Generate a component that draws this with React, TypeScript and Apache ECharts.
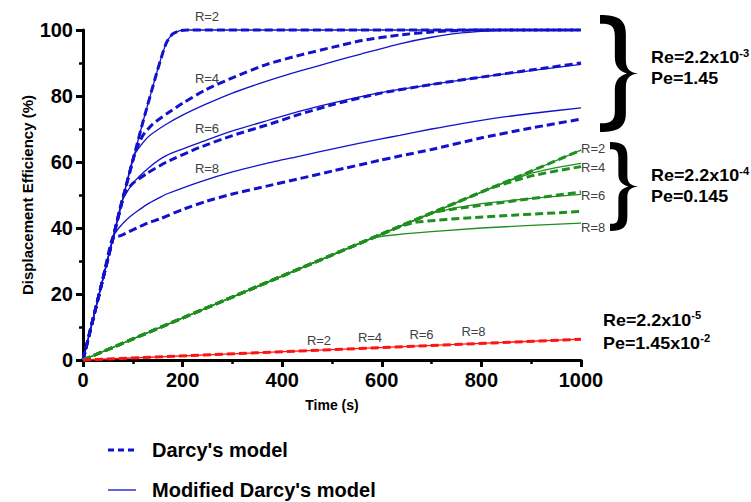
import React, { useEffect, useRef } from "react";
import * as echarts from "echarts";

// ---------------- data ----------------
const xTicks = { min: 0, max: 1000, interval: 200 };
const yTicks = { min: 0, max: 100, interval: 20 };

// Re=2.2x10^-3, Pe=1.45 (blue)
const blueR2 = [[0, 0], [20, 12.3], [40, 24.6], [61, 37.4], [81, 49.5], [101, 61], [121, 72.5], [148, 87], [160, 93], [168, 96.3], [180, 98.8], [195, 99.8], [210, 100], [1000, 100]];
const blueDarcyR4 = [[0, 0], [20, 12.3], [40, 24.6], [61, 37.4], [81, 49.5], [104, 62.5], [120, 68], [140, 71.5], [168, 74.6], [200, 77.8], [248, 82], [300, 85.5], [369, 89.6], [436, 92.4], [502, 94.8], [560, 96.8], [636, 98.5], [700, 99.4], [760, 99.9], [800, 100], [1000, 100]];
const blueModR4 = [[0, 0], [20, 12.3], [40, 24.6], [61, 37.4], [81, 49.5], [101, 61.5], [115, 64.8], [134, 68], [168, 71.5], [200, 74.2], [248, 77.6], [300, 80.9], [369, 84.5], [436, 87.6], [502, 90.4], [560, 92.8], [636, 95.8], [700, 97.8], [760, 99.1], [830, 99.8], [900, 100], [1000, 100]];
const blueDarcyR6 = [[0, 0], [20, 12.3], [40, 24.6], [61, 37.4], [82, 50], [100, 53.5], [128, 56.5], [168, 60], [234, 64.4], [300, 68], [369, 71.2], [436, 74.5], [502, 77.4], [596, 80.8], [700, 83.5], [803, 85.8], [900, 87.9], [1000, 90]];
const blueModR6 = [[0, 0], [20, 12.3], [40, 24.6], [61, 37.4], [78, 48], [100, 53.5], [134, 58.5], [168, 62], [248, 66.6], [300, 69.4], [369, 72.5], [436, 75.4], [502, 77.9], [596, 81], [700, 83.5], [803, 85.8], [900, 87.7], [1000, 89.6]];
const blueDarcyR8 = [[0, 0], [20, 12.3], [40, 24.6], [61, 37.4], [74, 37.6], [90, 38.7], [108, 40], [130, 41.5], [155, 42.8], [200, 45.6], [248, 48.1], [300, 50.3], [369, 52.7], [436, 55], [502, 57.3], [596, 60.5], [636, 61.8], [700, 63.8], [803, 67.4], [900, 70.3], [1000, 73]];
const blueModR8 = [[0, 0], [20, 12.3], [40, 24.6], [61, 37.4], [72, 40], [88, 42.6], [110, 45.2], [128, 47.1], [155, 49.3], [168, 50.3], [235, 54], [300, 57], [369, 59.6], [436, 61.8], [502, 64], [596, 66.9], [636, 68.1], [700, 70], [803, 72.7], [900, 74.7], [1000, 76.4]];

// Re=2.2x10^-4, Pe=0.145 (green)
const greenR2 = [[0, 0], [500, 31.8], [1000, 63.6]];
const greenDarcyR4 = [[0, 0], [820, 52.2], [860, 54], [900, 55.8], [950, 57.3], [1000, 58.6]];
const greenModR4 = [[0, 0], [840, 53.4], [900, 56.6], [950, 58.3], [1000, 59.6]];
const greenDarcyR6 = [[0, 0], [705, 44.9], [750, 45.9], [800, 46.9], [900, 48.9], [1000, 50.9]];
const greenModR6 = [[0, 0], [695, 44.3], [750, 46.2], [800, 47.4], [900, 49], [1000, 50.2]];
const greenDarcyR8 = [[0, 0], [640, 40.7], [670, 41.8], [730, 42.6], [864, 43.9], [1000, 45]];
const greenModR8 = [[0, 0], [580, 36.9], [600, 37.5], [650, 38.3], [700, 38.9], [800, 40], [900, 40.8], [1000, 41.5]];

// Re=2.2x10^-5, Pe=1.45x10^-2 (red)
const redR = [[0, 0], [500, 3.15], [1000, 6.3]];

const rLabels = ["R=2", "R=4", "R=6", "R=8"];
const legendNames = ["Darcy's model", "Modified Darcy's model"];
const groupTexts = [
  ["Re=2.2x10", "-3", "Pe=1.45", ""],
  ["Re=2.2x10", "-4", "Pe=0.145", ""],
  ["Re=2.2x10", "-5", "Pe=1.45x10", "-2"],
];

// ---------------- styles ----------------
const FONT = '"Liberation Sans", Arial, Helvetica, sans-serif';
const BLUE = "#1212cc";
const GREEN = "#1f8f1f";
const RED = "#ff1414";
const GRAY = "#404040";

function bracePath(w: number, h: number, t: number, xoFrac: number) {
  const xo = w * xoFrac;
  const xi = xo - t;
  const m = h / 2;
  const nx = xo + (w - xo) * 0.1;
  const p = (n: number) => n.toFixed(2);
  return (
    `M0,0 C${p(xo * 0.7)},0 ${p(xo)},${p(h * 0.04)} ${p(xo)},${p(h * 0.16)} ` +
    `L${p(xo)},${p(h * 0.38)} C${p(xo)},${p(h * 0.46)} ${p(xo + (w - xo) * 0.3)},${p(h * 0.49)} ${p(w)},${p(m)} ` +
    `C${p(xo + (w - xo) * 0.3)},${p(h * 0.51)} ${p(xo)},${p(h * 0.54)} ${p(xo)},${p(h * 0.62)} ` +
    `L${p(xo)},${p(h * 0.84)} C${p(xo)},${p(h * 0.96)} ${p(xo * 0.7)},${p(h)} 0,${p(h)} ` +
    `L0,${p(h - t * 0.8)} C${p(xi * 0.6)},${p(h - t * 0.8)} ${p(xi)},${p(h * 0.92)} ${p(xi)},${p(h * 0.82)} ` +
    `L${p(xi)},${p(h * 0.64)} C${p(xi)},${p(h * 0.56)} ${p(xi + t * 0.4)},${p(h * 0.52)} ${p(nx)},${p(m)} ` +
    `C${p(xi + t * 0.4)},${p(h * 0.48)} ${p(xi)},${p(h * 0.44)} ${p(xi)},${p(h * 0.36)} ` +
    `L${p(xi)},${p(h * 0.18)} C${p(xi)},${p(h * 0.08)} ${p(xi * 0.6)},${p(t * 0.8)} 0,${p(t * 0.8)} Z`
  );
}

echarts.graphic.registerShape("braceTop", echarts.graphic.extendPath(bracePath(38, 117, 11, 0.68), {}));
echarts.graphic.registerShape("braceMid", echarts.graphic.extendPath(bracePath(28, 89, 9, 0.62), {}));

function dashed(name: string, data: number[][], color: string, smooth: number) {
  return {
    type: "line",
    name,
    data,
    showSymbol: false,
    symbol: "none",
    smooth,
    silent: true,
    clip: false,
    lineStyle: { color, width: 3, type: [8, 4] },
    z: 4,
  };
}
function solid(name: string, data: number[][], color: string, smooth: number) {
  return {
    type: "line",
    name,
    data,
    showSymbol: false,
    symbol: "none",
    smooth,
    silent: true,
    clip: false,
    lineStyle: { color, width: 1.3, type: "solid" },
    z: 3,
  };
}

function rText(x: number, y: number, text: string, align: string) {
  return {
    type: "text",
    x,
    y,
    silent: true,
    style: { text, fill: GRAY, font: `13px ${FONT}`, align, verticalAlign: "middle" },
  };
}

function groupText(x: number, y: number, main: string, sup: string) {
  return {
    type: "text",
    x,
    y,
    scaleX: 1.12,
    silent: true,
    style: {
      text: sup ? `{a|${main}}{s|${sup}}` : `{a|${main}}`,
      align: "left",
      verticalAlign: "middle",
      rich: {
        a: { fontFamily: FONT, fontSize: 16, fontWeight: "bold", fill: "#000", lineHeight: 20 },
        s: { fontFamily: FONT, fontSize: 10, fontWeight: "bold", fill: "#000", lineHeight: 12, verticalAlign: "top" },
      },
    },
  };
}

export default function App() {
  const ref = useRef<HTMLDivElement>(null);
  useEffect(() => {
    if (!ref.current) return;
    const chart = echarts.init(ref.current, undefined, { renderer: "svg" });

    const axisCommon = {
      axisLine: { show: true, lineStyle: { color: "#000", width: 3 } },
      axisTick: { show: true, length: 7, lineStyle: { color: "#000", width: 3 } },
      minorTick: { show: true, splitNumber: 2, length: 4, lineStyle: { color: "#000", width: 2.5 } },
      splitLine: { show: false },
      minorSplitLine: { show: false },
      axisLabel: { color: "#000", fontFamily: FONT, fontSize: 20, fontWeight: "bold", formatter: (v: number) => String(v) },
      nameTextStyle: { color: "#000", fontFamily: FONT, fontSize: 14, fontWeight: "bold" },
      nameLocation: "middle",
      nameMoveOverlap: false,
    };

    const S = 0.2;
    const series = [
      solid("blue M R2", blueR2, BLUE, S),
      solid("blue M R4", blueModR4, BLUE, S),
      solid("blue M R6", blueModR6, BLUE, S),
      solid("blue M R8", blueModR8, BLUE, S),
      dashed("blue D R2", blueR2, BLUE, S),
      dashed("blue D R4", blueDarcyR4, BLUE, S),
      dashed("blue D R6", blueDarcyR6, BLUE, S),
      dashed("blue D R8", blueDarcyR8, BLUE, S),
      solid("green M R2", greenR2, GREEN, 0),
      solid("green M R4", greenModR4, GREEN, 0),
      solid("green M R6", greenModR6, GREEN, 0),
      solid("green M R8", greenModR8, GREEN, 0),
      dashed("green D R2", greenR2, GREEN, 0),
      dashed("green D R4", greenDarcyR4, GREEN, 0),
      dashed("green D R6", greenDarcyR6, GREEN, 0),
      dashed("green D R8", greenDarcyR8, GREEN, 0),
      solid("red M", redR, RED, 0),
      dashed("red D", redR, RED, 0),
    ];

    const graphic: any[] = [
      // braces
      { type: "braceTop", x: 600, y: 15, silent: true, style: { fill: "#000" } },
      { type: "braceMid", x: 610, y: 142, silent: true, style: { fill: "#000" } },
      // blue R labels
      rText(207, 16, rLabels[0], "center"),
      rText(207, 78.5, rLabels[1], "center"),
      rText(207, 128.5, rLabels[2], "center"),
      rText(207, 168, rLabels[3], "center"),
      // green R labels
      rText(581, 148, rLabels[0], "left"),
      rText(581, 167, rLabels[1], "left"),
      rText(581, 195, rLabels[2], "left"),
      rText(581, 227, rLabels[3], "left"),
      // red R labels
      rText(319, 340.5, rLabels[0], "center"),
      rText(370, 337, rLabels[1], "center"),
      rText(421.5, 334.5, rLabels[2], "center"),
      rText(473.5, 331, rLabels[3], "center"),
      // group annotations
      groupText(651, 58, groupTexts[0][0], groupTexts[0][1]),
      groupText(651, 79, groupTexts[0][2], groupTexts[0][3]),
      groupText(651, 176, groupTexts[1][0], groupTexts[1][1]),
      groupText(651, 197, groupTexts[1][2], groupTexts[1][3]),
      groupText(603, 320.5, groupTexts[2][0], groupTexts[2][1]),
      groupText(603, 343.5, groupTexts[2][2], groupTexts[2][3]),
      // legend
      { type: "line", silent: true, shape: { x1: 108, y1: 450, x2: 136, y2: 450 }, style: { stroke: BLUE, lineWidth: 3, lineDash: [6, 4] } },
      { type: "line", silent: true, shape: { x1: 108, y1: 490, x2: 136, y2: 490 }, style: { stroke: BLUE, lineWidth: 1.3 } },
      { type: "text", x: 152, y: 450, silent: true, style: { text: legendNames[0], fill: "#000", font: `bold 20px ${FONT}`, align: "left", verticalAlign: "middle" } },
      { type: "text", x: 152, y: 490, silent: true, style: { text: legendNames[1], fill: "#000", font: `bold 20px ${FONT}`, align: "left", verticalAlign: "middle" } },
    ];

    chart.setOption({
      animation: false,
      backgroundColor: "#fff",
      grid: { left: 83, right: 170, top: 30, bottom: 142, containLabel: false },
      xAxis: {
        type: "value",
        ...xTicks,
        ...axisCommon,
        name: "Time (s)",
        nameGap: 38,
        axisLabel: { ...axisCommon.axisLabel, margin: 10 },
      },
      yAxis: {
        type: "value",
        ...yTicks,
        ...axisCommon,
        name: "Displacement Efficiency (%)",
        nameGap: 48,
        nameTextStyle: { ...axisCommon.nameTextStyle, fontSize: 15 },
        axisLabel: { ...axisCommon.axisLabel, margin: 10 },
      },
      series,
      graphic,
    });

    return () => chart.dispose();
  }, []);

  return (
    <div
      ref={ref}
      style={{ position: "absolute", left: 0, top: 0, width: 751, height: 502, background: "#fff" }}
    />
  );
}
